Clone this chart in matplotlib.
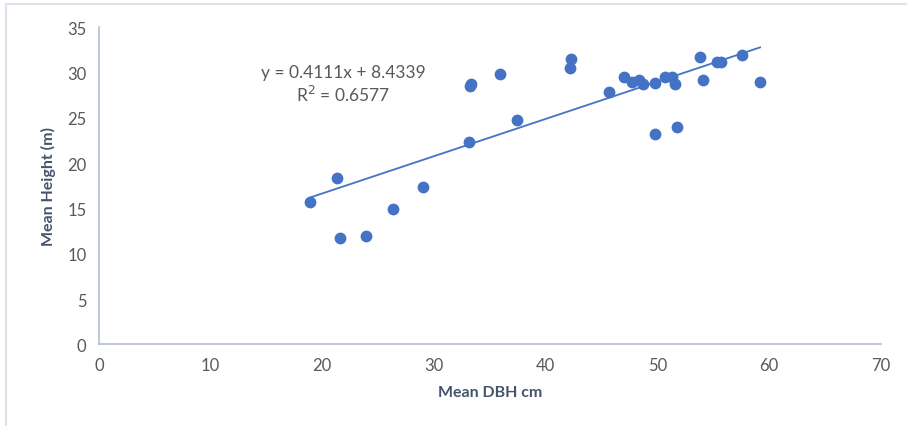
import numpy as np
from matplotlib import pyplot as plt
from matplotlib.lines import Line2D

# mean DBH (cm) and mean height (m)
dbh = [18.9, 21.3, 21.6, 23.9, 26.3, 29.0, 33.1, 33.2, 33.3, 35.9, 37.4,
       42.2, 42.3, 45.7, 47.0, 47.7, 48.4, 48.7, 49.8, 49.8, 50.7, 51.3,
       51.6, 51.8, 53.8, 54.1, 55.3, 55.7, 57.6, 59.2]
height = [15.7, 18.4, 11.7, 12.0, 14.9, 17.4, 22.3, 28.5, 28.7, 29.8, 24.8,
          30.5, 31.5, 27.9, 29.5, 29.0, 29.2, 28.7, 28.8, 23.2, 29.5, 29.5,
          28.7, 24.0, 31.7, 29.2, 31.2, 31.2, 31.9, 29.0]

slope = 0.4111
intercept = 8.4339
r2 = 0.6577

x_ticks = [0, 10, 20, 30, 40, 50, 60, 70]
y_ticks = [0, 5, 10, 15, 20, 25, 30, 35]

plt.rcParams['font.family'] = ['Lato', 'DejaVu Sans']

fig = plt.figure(figsize=(9.07, 4.27), dpi=100)
ax = fig.add_axes([0.109, 0.191, 0.862, 0.743])

ax.scatter(dbh, height, s=72, color='#4472C4', zorder=3, linewidths=0)

xs = np.array([min(dbh), max(dbh)])
ax.plot(xs, slope * xs + intercept, color='#4472C4', lw=1.3, zorder=2)

ax.text(21.9, 30.1, "y = %.4fx + %.4f" % (slope, intercept),
        ha='center', va='center', fontsize=12.5, color='#595959')
ax.text(21.9, 27.6, "R$^2$ = %.4f" % r2,
        ha='center', va='center', fontsize=12.5, color='#595959')

ax.set_xlim(0, 70)
ax.set_ylim(0, 35)
ax.set_xticks(x_ticks)
ax.set_yticks(y_ticks)
ax.tick_params(length=0, labelsize=12, colors='#595959', pad=9)

for side in ['top', 'right']:
    ax.spines[side].set_visible(False)
for side in ['left', 'bottom']:
    ax.spines[side].set_color('#b4bfd0')
    ax.spines[side].set_linewidth(1.2)

ax.set_xlabel("Mean DBH cm", fontsize=11.5, fontweight='bold', color='#44546A', labelpad=9)
ax.set_ylabel("Mean Height (m)", fontsize=11.5, fontweight='bold', color='#44546A', labelpad=8)

# light frame on top and left edges
fig.add_artist(Line2D([6 / 907, 6 / 907], [0, 1 - 5 / 427], transform=fig.transFigure,
                      color='#dde3ea', lw=1.5))
fig.add_artist(Line2D([6 / 907, 1], [1 - 5 / 427, 1 - 5 / 427], transform=fig.transFigure,
                      color='#dde3ea', lw=1.5))

fig.savefig("out.png", dpi=100)
